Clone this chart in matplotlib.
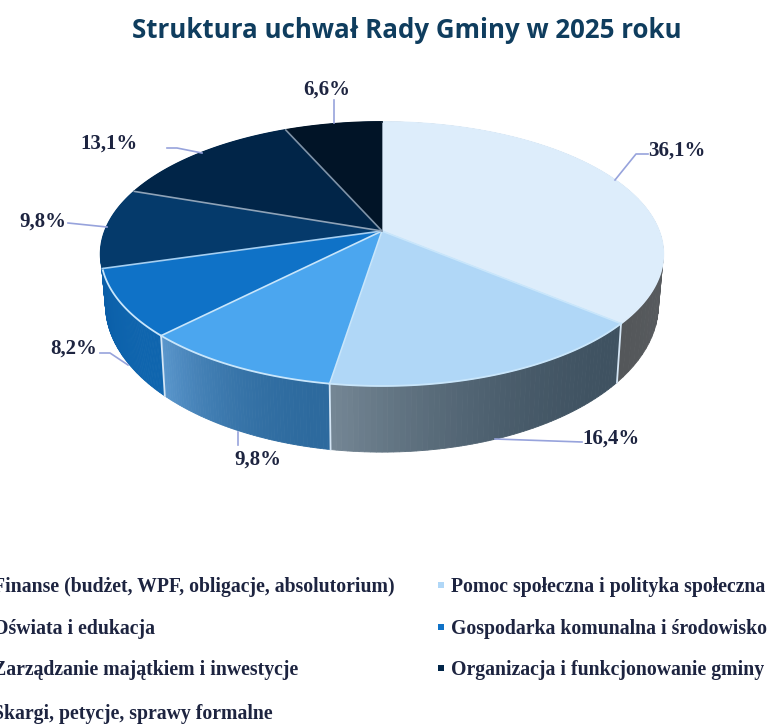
import numpy as np
from matplotlib import pyplot as plt
from matplotlib.colors import to_rgb
from matplotlib.patches import Polygon

title = "Struktura uchwał Rady Gminy w 2025 roku"
values = [36.1, 16.4, 9.8, 8.2, 9.8, 13.1, 6.6]
categories = ["Finanse (budżet, WPF, obligacje, absolutorium)",
              "Pomoc społeczna i polityka społeczna",
              "Oświata i edukacja",
              "Gospodarka komunalna i środowisko",
              "Zarządzanie majątkiem i inwestycje",
              "Organizacja i funkcjonowanie gminy",
              "Skargi, petycje, sprawy formalne"]
top_colors = ["#DDEDFB", "#B0D7F7", "#4BA6EF", "#0F72C7", "#053A6B", "#012548", "#011427"]
wall_start = ["#5f6367", "#3f5261", "#2d6a9e", "#0f65ae", "#0a5ea8", "#0a5ea8", "#0a5ea8"]
wall_end = ["#54575a", "#748694", "#5a96cc", "#0a5ea8", "#0a5ea8", "#0a5ea8", "#0a5ea8"]
sep_colors = ["#c9e6fb", "#c9e6fb", "#c9e6fb", "#a5cff2", "#8fa3b8", "#7f93a8"]

label_xy = [(677, 151), (611, 439), (258, 460), (74, 349), (43, 222), (109, 144), (327, 90)]
leaders = [[(615, 180), (636, 154), (648, 154)],
           [(495, 439), (582, 442)],
           [(238, 432), (238, 445)],
           [(100, 353), (110, 353), (128, 365)],
           [(68, 223), (107, 227)],
           [(167, 148), (177, 148), (202, 153)],
           [(334, 100), (334, 123)]]
legend_xy = [(-7, 587), (451, 587), (-7, 629), (451, 629), (-7, 670), (451, 670), (-7, 714)]

cx, cy = 382, 231
k = 0.174


def top_rim(a):
    u, v = np.sin(a), np.cos(a)
    w = 1 + k * v
    return cx + 277 * u / w, cy - 128 * v / w


def low_rim(a):
    u, v = np.sin(a), np.cos(a)
    w = 1 + k * v
    return cx + 0.983 * 277 * u / w, 279 - 143 * v / w


fig = plt.figure(figsize=(7.73, 7.24), dpi=100)
ax = fig.add_axes([0, 0, 1, 1])
ax.set_xlim(0, 773)
ax.set_ylim(724, 0)
ax.axis("off")

edges = np.radians(np.concatenate([[0], np.cumsum(values)]) * 3.6)

# side wall first, the top face goes over it
for i in range(len(values)):
    c0, c1 = np.array(to_rgb(wall_start[i])), np.array(to_rgb(wall_end[i]))
    steps = np.linspace(edges[i], edges[i + 1], 60)
    for j in range(len(steps) - 1):
        t = (j / (len(steps) - 2)) ** 2
        col = c0 + (c1 - c0) * t
        a, b = steps[j], steps[j + 1]
        ax.add_patch(Polygon([top_rim(a), top_rim(b), low_rim(b), low_rim(a)],
                             fc=col, ec=col, lw=0.6, zorder=1))

for a in edges[1:4]:
    ax.plot(*zip(top_rim(a), low_rim(a)), color="#d5e6f5", lw=1.3, zorder=2)

for i in range(len(values)):
    angs = np.linspace(edges[i], edges[i + 1], 100)
    pts = [(cx, cy)] + [top_rim(a) for a in angs]
    ax.add_patch(Polygon(pts, fc=top_colors[i], ec=top_colors[i], lw=0.5, zorder=3))
    rim = "#c9e6fb" if 1 <= i <= 3 else top_colors[i]
    ax.plot(*zip(*[top_rim(a) for a in angs]), color=rim, lw=1.3, zorder=4)

for a, col in zip(edges[1:-1], sep_colors):
    ax.plot(*zip((cx, cy), top_rim(a)), color=col, lw=1.2, zorder=4)

for i, v in enumerate(values):
    ax.plot(*zip(*leaders[i]), color="#97a3dc", lw=1.2, zorder=5)
    ax.text(label_xy[i][0], label_xy[i][1], f"{v:.1f}%".replace(".", ","),
            family="Liberation Serif", weight="bold", fontsize=15,
            color="#1d2440", ha="center", va="center", zorder=6)

ax.text(407, 30, title, family="Open Sans", weight="bold", fontsize=18.65,
        color="#0f3d5e", ha="center", va="center")

for i, name in enumerate(categories):
    x, y = legend_xy[i]
    ax.text(x, y, name, family="Liberation Serif", weight="bold", fontsize=14.2,
            color="#1d2440", ha="left", va="center")
    ax.add_patch(plt.Rectangle((x - 13, y - 5), 6, 6, fc=top_colors[i], ec="none"))

fig.savefig("out.png", dpi=100)
